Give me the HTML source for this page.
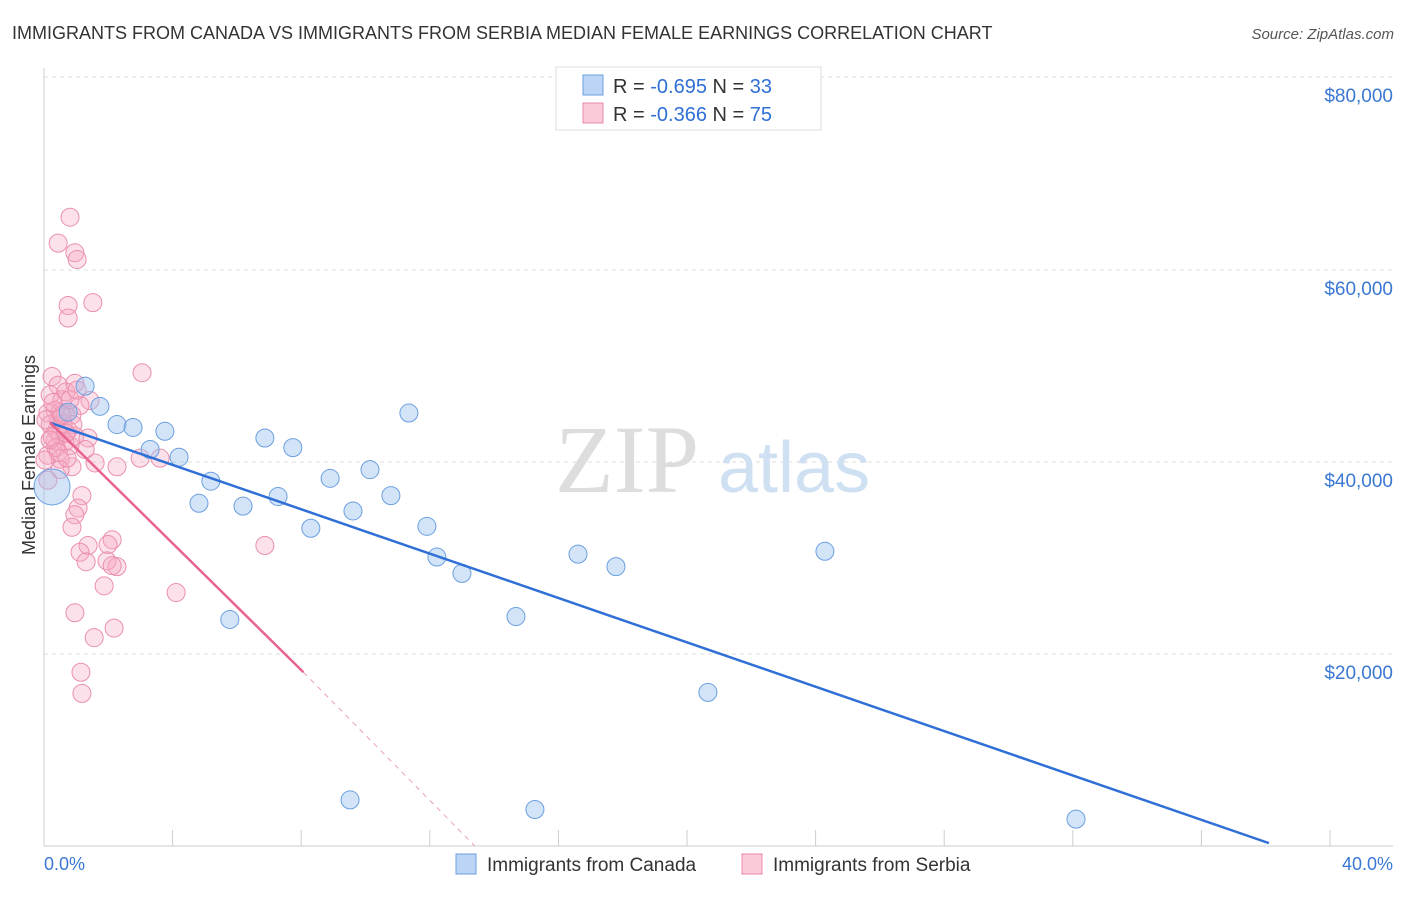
<!DOCTYPE html>
<html><head><meta charset="utf-8"><style>
body{margin:0;background:#fff;font-family:"Liberation Sans",sans-serif}
</style></head><body>
<svg width="1406" height="892" xmlns="http://www.w3.org/2000/svg">
<text x="12" y="39" font-size="18" fill="#333">IMMIGRANTS FROM CANADA VS IMMIGRANTS FROM SERBIA MEDIAN FEMALE EARNINGS CORRELATION CHART</text>
<text x="1394" y="39" font-size="15" fill="#555" font-style="italic" text-anchor="end">Source: ZipAtlas.com</text>
<g id="grid"></g>
<text x="555" y="492" font-size="96" font-family="Liberation Serif" fill="#ddd">ZIP</text>
<text x="718" y="492" font-size="72" fill="#cfe0f3">atlas</text>
<text transform="translate(35,455) rotate(-90)" font-size="18" fill="#333" text-anchor="middle">Median Female Earnings</text>
<g id="pts"></g>
<g id="lines"></g>
<g>
<rect x="556" y="67" width="265" height="63" fill="#fff" stroke="#ddd"/>
<rect x="583" y="75" width="20" height="20" fill="#bcd4f5" stroke="#6a9fe0"/>
<rect x="583" y="103" width="20" height="20" fill="#fbcad9" stroke="#e889a8"/>
<text x="613" y="93" font-size="20" fill="#333">R = <tspan fill="#2f6fd6">-0.695</tspan>   N = <tspan fill="#2f6fd6">33</tspan></text>
<text x="613" y="121" font-size="20" fill="#333">R = <tspan fill="#2f6fd6">-0.366</tspan>   N = <tspan fill="#2f6fd6">75</tspan></text>
</g>
<text x="44" y="870" font-size="18" fill="#3a78d4">0.0%</text>
<text x="1393" y="870" font-size="18" fill="#3a78d4" text-anchor="end">40.0%</text>
<g>
<rect x="456" y="854" width="20" height="20" fill="#bcd4f5" stroke="#6a9fe0"/>
<text x="487" y="871" font-size="19" fill="#333">Immigrants from Canada</text>
<rect x="742" y="854" width="20" height="20" fill="#fbcad9" stroke="#e889a8"/>
<text x="773" y="871" font-size="19" fill="#333">Immigrants from Serbia</text>
</g>
</svg>
<script>
const yTicks=[20000,40000,60000,80000];
const yTickLabels=["$20,000","$40,000","$60,000","$80,000"];
const canadaX=[1.28,1.74,2.27,2.77,3.30,3.76,4.20,4.82,5.19,5.78,6.19,6.87,7.28,7.74,8.30,8.90,9.61,9.52,10.14,10.79,11.35,11.91,12.22,13.00,14.68,15.27,16.61,17.79,20.65,24.29,32.10,0.25,0.75];
const canadaY=[47.9,45.8,43.9,43.6,41.3,43.2,40.5,35.7,38.0,23.6,35.4,42.5,36.4,41.5,33.1,38.3,34.9,4.8,39.2,36.5,45.1,33.3,30.1,28.4,23.9,3.8,30.4,29.1,16.0,30.7,2.8,37.4,45.2];
const serbiaX=[0.81,0.44,0.96,1.03,1.52,0.75,0.75,3.05,0.25,0.44,0.96,0.19,1.43,0.56,0.34,0.12,0.65,0.87,0.44,0.19,0.75,0.50,0.96,0.34,0.65,1.37,0.81,0.12,0.50,0.87,1.59,2.27,2.99,3.61,1.18,1.06,0.96,0.87,1.37,1.12,2.12,1.99,1.31,1.96,2.27,2.12,6.87,1.87,4.11,0.96,2.18,1.56,1.15,1.18,0.50,0.12,0.68,1.12,0.40,0.59,0.25,0.90,0.06,0.37,0.68,0.50,0.81,0.19,0.44,0.03,0.56,0.28,1.03,0.72,1.28];
const serbiaY=[65.5,62.8,61.8,61.1,56.6,56.3,55.0,49.3,48.9,48.0,48.2,47.0,46.4,46.5,45.4,45.1,45.1,44.9,44.4,43.9,43.3,42.8,42.7,42.2,42.1,42.5,41.7,40.7,40.3,39.5,39.9,39.5,40.4,40.4,36.5,35.2,34.5,33.2,31.3,30.6,31.9,31.4,29.6,29.7,29.1,29.2,31.3,27.1,26.4,24.3,22.7,21.7,18.1,15.9,39.2,38.1,47.3,45.9,43.3,44.0,42.6,43.9,44.4,41.5,43.0,45.2,46.5,42.3,41.0,40.2,44.9,46.2,47.5,40.4,41.3];
const canadaTrend=[0.19,44.1,38.1,0.3];
const serbiaTrend=[0.19,44.1,8.07,18.1,13.4,0];
const NS="http://www.w3.org/2000/svg";
const X=v=>44+v*32.15, Y=k=>846-k*9.6;
function mk(t,a,p){const e=document.createElementNS(NS,t);for(const k in a)e.setAttribute(k,a[k]);p.appendChild(e);return e;}
const grid=document.getElementById('grid');
const ax=mk('line',{x1:44,y1:68,x2:44,y2:846,stroke:'#ccc'},grid);


const bx=mk('line',{x1:44,y1:846,x2:1393,y2:846,stroke:'#ccc'},grid);


for(let i=0;i<=10;i++){const t=mk('line',{x1:X(i*4),y1:830,x2:X(i*4),y2:846,stroke:'#ccc'},grid);

}
yTicks.forEach((v,i)=>{const y=Y(v/1000)-(i==3?1:0);
const g=mk('line',{x1:44,y1:y,x2:1393,y2:y,stroke:'#ddd','stroke-dasharray':'4,4'},grid);


const t=mk('text',{x:1393,y:y+25,'font-size':19,fill:'#3a78d4','text-anchor':'end'},grid);t.textContent=yTickLabels[i];

});
const pts=document.getElementById('pts');
serbiaX.forEach((x,i)=>{const c=mk('circle',{cx:X(x),cy:Y(serbiaY[i]),r:9,fill:'rgba(246,170,196,0.35)',stroke:'#ea8fae','stroke-width':1},pts);

});
canadaX.forEach((x,i)=>{const c=mk('circle',{cx:X(x),cy:Y(canadaY[i]),r:i==31?18:9,fill:'rgba(160,196,240,0.45)',stroke:'#6a9fe0','stroke-width':1},pts);

});
const L=document.getElementById('lines');
const b=mk('line',{x1:X(canadaTrend[0]),y1:Y(canadaTrend[1]),x2:X(canadaTrend[2]),y2:Y(canadaTrend[3]),stroke:'#2f6fd6','stroke-width':2.5},L);


const p=mk('line',{x1:X(serbiaTrend[0]),y1:Y(serbiaTrend[1]),x2:X(serbiaTrend[2]),y2:Y(serbiaTrend[3]),stroke:'#e8648f','stroke-width':2.5},L);


const pd=mk('line',{x1:X(serbiaTrend[2]),y1:Y(serbiaTrend[3]),x2:X(serbiaTrend[4]),y2:Y(serbiaTrend[5]),stroke:'#e8a0b8','stroke-width':1,'stroke-dasharray':'5,5'},L);


</script>
</body></html>
